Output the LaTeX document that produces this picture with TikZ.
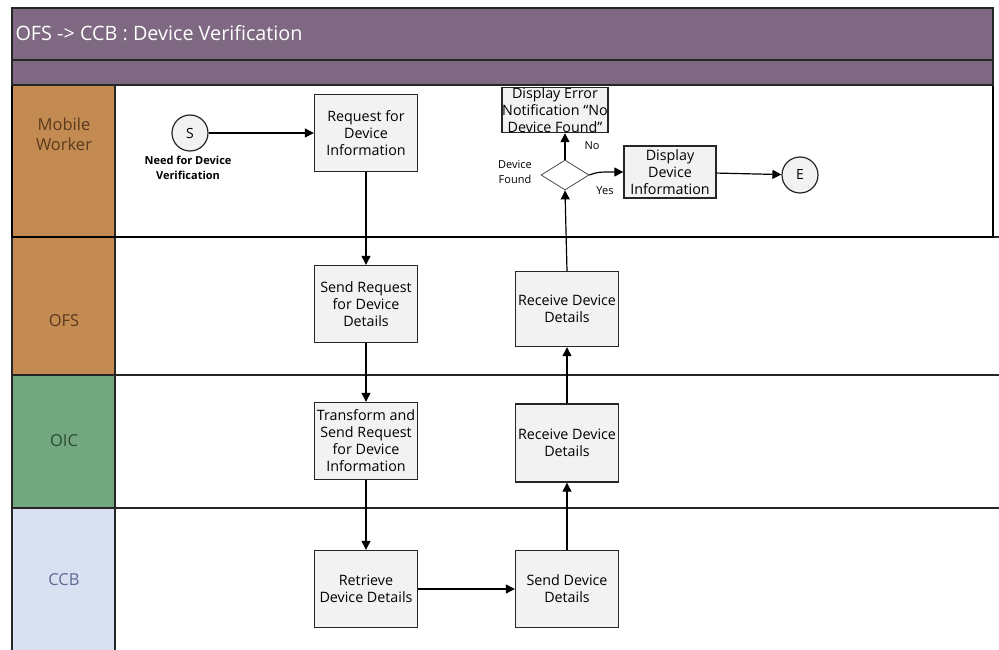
\documentclass[tikz,border=0pt]{standalone}
\usepackage{fontspec}
\setmainfont{Open Sans}
\usetikzlibrary{shapes.geometric,arrows.meta}
\definecolor{titlebg}{HTML}{7F6881}
\definecolor{lanebrown}{HTML}{C38B51}
\definecolor{lanegreen}{HTML}{72A780}
\definecolor{laneblue}{HTML}{D9E0F2}
\definecolor{boxfill}{HTML}{F2F2F2}
\definecolor{txtbrown}{HTML}{5A3A1E}
\definecolor{txtgreen}{HTML}{2E4A36}
\definecolor{txtblue}{HTML}{5B6B93}
\tikzset{
  procbox/.style={draw=black!85, line width=1.4pt, fill=boxfill, minimum width=103pt, align=center, font=\fontsize{14.3}{17}\selectfont, inner sep=0pt},
  evt/.style={circle, draw=black!85, line width=1.2pt, fill=boxfill, minimum size=36pt, inner sep=0pt, font=\fontsize{14}{16}\selectfont},
  flow/.style={-{Triangle[length=9pt,width=9pt]}, line width=1.2pt},
  lanelbl/.style={font=\fontsize{16.5}{20}\selectfont, align=center},
  smalllbl/.style={font=\fontsize{11}{15}\selectfont, align=center},
  laneline/.style={line width=1.6pt, draw=black!85}
}
\begin{document}
\begin{tikzpicture}[x=1pt,y=-1pt]
\useasboundingbox (0,0) rectangle (999,650);
\fill[white] (0,0) rectangle (999,650);
% lane label column
\fill[lanebrown] (12,85) rectangle (115,375);
\fill[lanegreen] (12,375) rectangle (115,508);
\fill[laneblue] (12,508) rectangle (115,650);
% lane lines
\draw[laneline] (12,237) -- (999,237);
\draw[laneline] (12,375) -- (999,375);
\draw[laneline] (12,508) -- (999,508);
\draw[laneline] (12,85) -- (12,650);
\draw[laneline] (115,85) -- (115,650);
\draw[line width=2.2pt] (12,85) rectangle (993,237);
% lane labels
\node[lanelbl, text=txtbrown] (lmw) at (64,134) {Mobile\\Worker};
\node[lanelbl, text=txtbrown] (lofs) at (64,321) {OFS};
\node[lanelbl, text=txtgreen] (loic) at (64,441) {OIC};
\node[lanelbl, text=txtblue] (lccb) at (64,580) {CCB};
% nodes
\node[evt] (S) at (190,133) {S};
\node[smalllbl, font=\fontsize{11}{15}\selectfont\bfseries] (slbl) at (188,168) {Need for Device\\Verification};
\node[procbox, minimum height=77pt] (req) at (366,133) {Request for\\Device\\Information};
\node[procbox, minimum height=77pt] (sreq) at (366,304) {Send Request\\for Device\\Details};
\node[procbox, minimum height=77pt] (trans) at (366,441) {Transform and\\Send Request\\for Device\\Information};
\node[procbox, minimum height=77pt] (retr) at (366,589) {Retrieve\\Device Details};
\node[procbox, minimum height=77pt] (sdd) at (567,589) {Send Device\\Details};
\node[procbox, minimum height=78pt] (roic) at (567,443) {Receive Device\\Details};
\node[procbox, minimum height=75pt] (rofs) at (567,309) {Receive Device\\Details};
\node[diamond, draw=black!70, line width=0.8pt, fill=white, minimum width=48pt, minimum height=30pt, inner sep=0pt] (dec) at (565,175) {};
\node[smalllbl] (declbl) at (515,172) {Device\\Found};
\node[procbox, minimum width=106pt, minimum height=45pt] (err) at (555,110) {Display Error\\Notification “No\\Device Found”};
\node[procbox, minimum width=92pt, minimum height=52pt] (disp) at (670,172) {Display\\Device\\Information};
\node[evt] (E) at (800,175) {E};
\node[smalllbl] (nolbl) at (592,146) {No};
\node[smalllbl] (yeslbl) at (605,191) {Yes};
% flows
\draw[flow] (S) -- (req);
\draw[flow] (req) -- (sreq);
\draw[flow] (sreq) -- (trans);
\draw[flow] (trans) -- (retr);
\draw[flow] (retr) -- (sdd);
\draw[flow] (sdd) -- (roic);
\draw[flow] (roic) -- (rofs);
\draw[flow] (rofs.north) -- (dec.south);
\draw[flow] (dec.north) -- (dec.north |- err.south);
\draw[flow] (dec.east) .. controls (598,172) .. (disp.west);
\draw[flow] (disp) -- (E);
% title bands (drawn last, covering overflow)
\fill[titlebg] (12,8) rectangle (993,85);
\draw[laneline] (12,8) rectangle (993,85);
\draw[laneline] (12,60) -- (993,60);
\node[anchor=west, text=white, font=\fontsize{19.8}{22}\selectfont] (title) at (12,33) {OFS -> CCB : Device Verification};
\end{tikzpicture}
\end{document}
